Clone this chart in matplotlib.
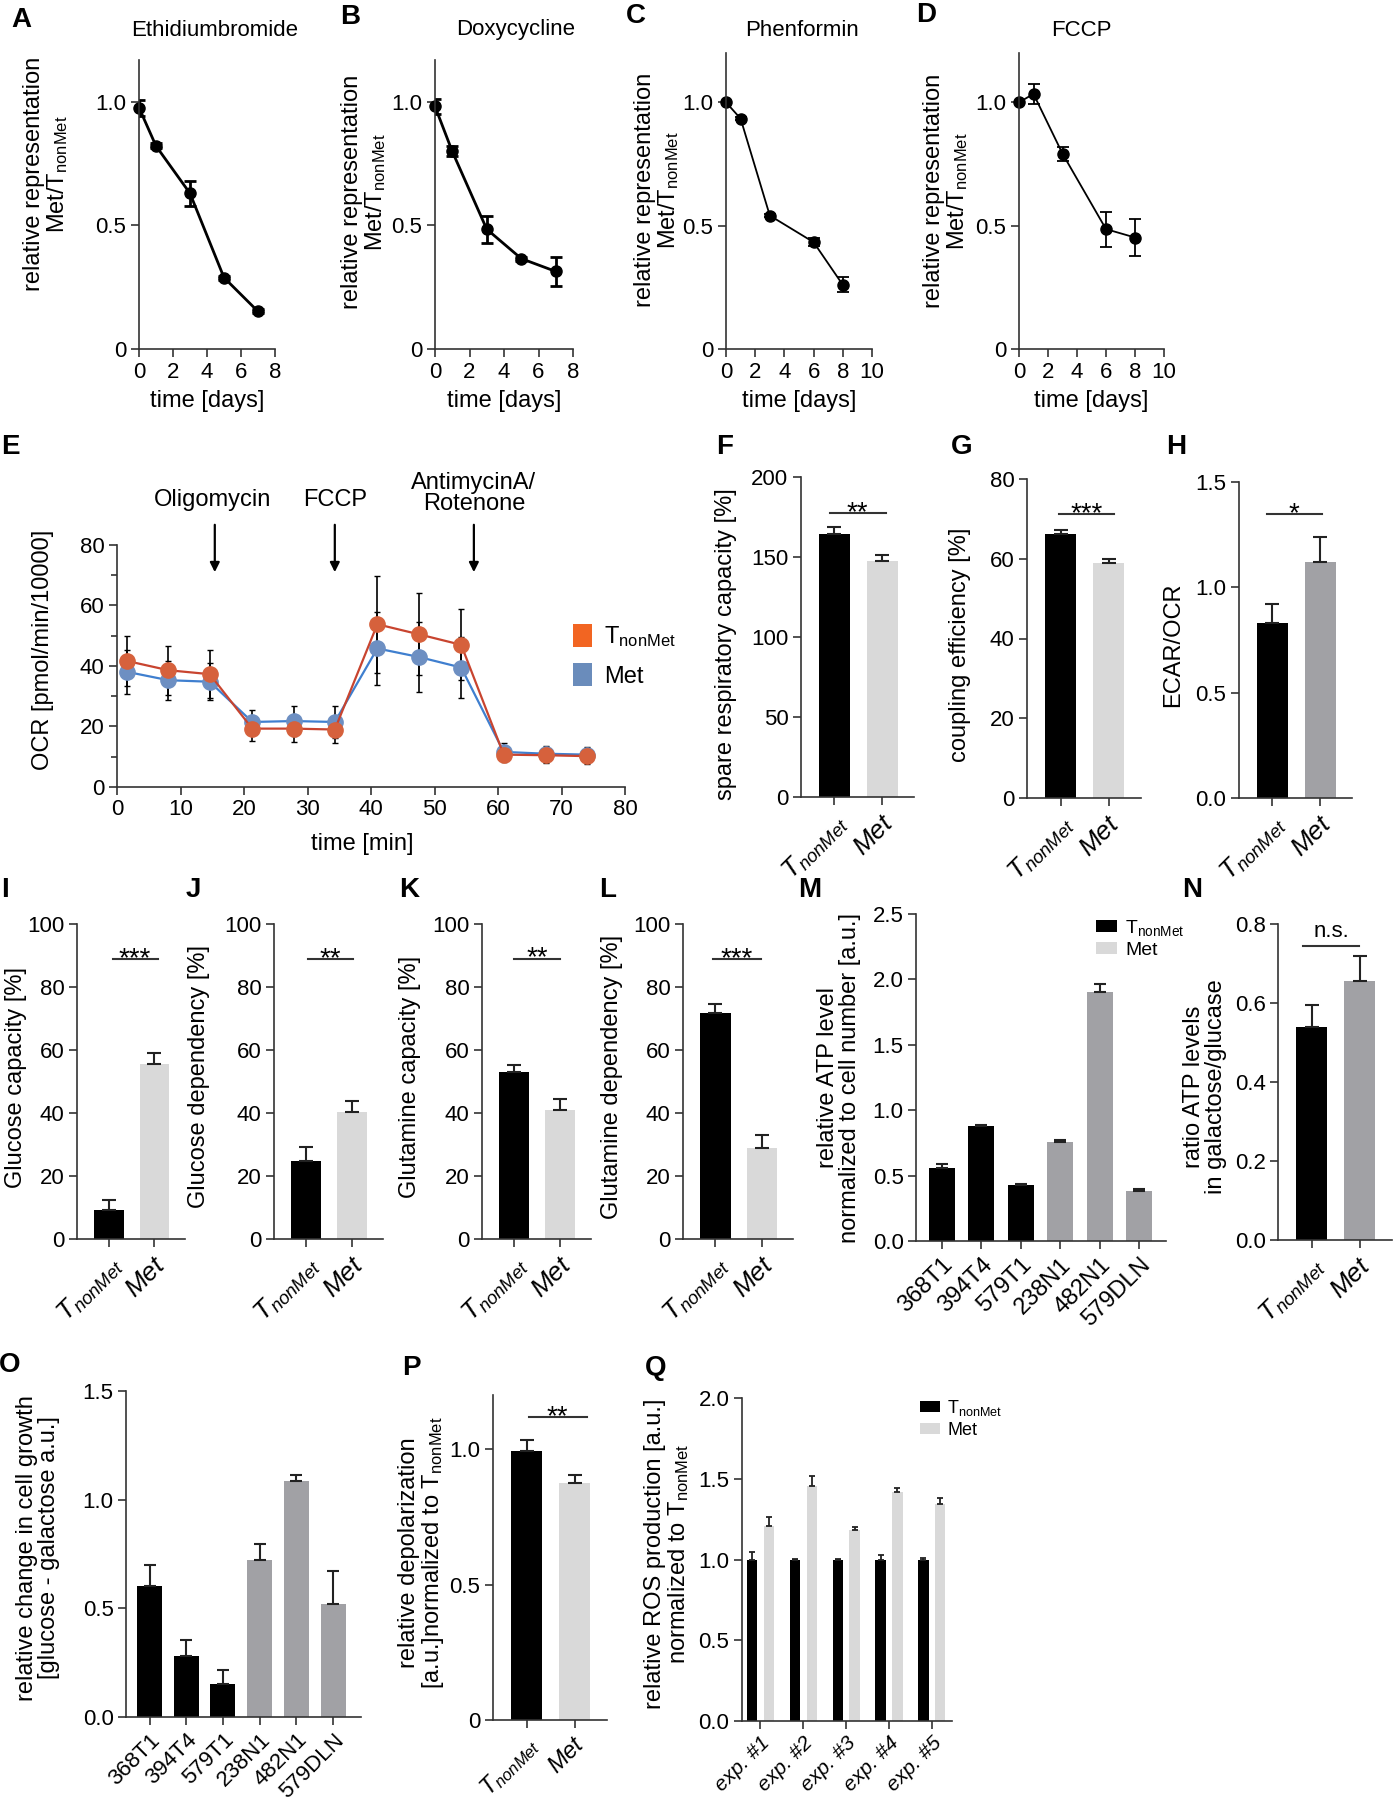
import matplotlib
matplotlib.use('Agg')
import matplotlib.pyplot as plt
from matplotlib.patches import Patch

plt.rcParams['font.family'] = ['Liberation Sans', 'DejaVu Sans']
plt.rcParams['mathtext.fontset'] = 'custom'
plt.rcParams['mathtext.rm'] = 'Liberation Sans'
plt.rcParams['mathtext.it'] = 'Liberation Sans:italic'
plt.rcParams['mathtext.bf'] = 'Liberation Sans:bold'

# ---------------- data ----------------
# A-D: relative representation over time
days_ab = [0, 1, 3, 5, 7]
days_cd = [0, 1, 3, 6, 8]
etbr = [0.977, 0.822, 0.630, 0.289, 0.152]
etbr_err = [0.032, 0.01, 0.05, 0.008, 0.008]
doxy = [0.982, 0.80, 0.485, 0.366, 0.314]
doxy_err = [0.03, 0.02, 0.054, 0.008, 0.057]
phen = [1.0, 0.934, 0.541, 0.433, 0.26]
phen_err = [0.005, 0.005, 0.005, 0.015, 0.03]
fccp = [1.0, 1.034, 0.792, 0.486, 0.452]
fccp_err = [0.005, 0.04, 0.028, 0.071, 0.076]

# E: OCR time course
ocr_time = [1.5, 8.1, 14.6, 21.3, 27.8, 34.3, 41.0, 47.5, 54.2, 60.9, 67.5, 74.0]
ocr_tnon = [41.7, 38.6, 37.3, 19.3, 19.3, 19.0, 53.8, 50.5, 47.0, 10.7, 10.5, 10.2]
ocr_tnon_err = [8.2, 8.1, 7.9, 4.0, 4.5, 4.5, 16.0, 13.5, 11.7, 2.5, 2.5, 2.5]
ocr_met = [38.1, 35.3, 34.8, 21.5, 21.8, 21.5, 45.8, 43.0, 39.5, 11.6, 11.0, 10.7]
ocr_met_err = [7.2, 6.5, 6.2, 4.1, 5.0, 5.2, 12.2, 11.5, 10.0, 3.0, 2.7, 2.5]

# two-group bar panels (TnonMet, Met)
spare_cap = [164.5, 147.5]; spare_cap_err = [4.0, 3.5]
coupling = [66.3, 58.9]; coupling_err = [1.0, 1.0]
ecar_ocr = [0.833, 1.121]; ecar_ocr_err = [0.086, 0.119]
glc_cap = [9.1, 55.6]; glc_cap_err = [3.2, 3.4]
glc_dep = [24.9, 40.2]; glc_dep_err = [4.3, 3.7]
gln_cap = [53.0, 41.0]; gln_cap_err = [2.3, 3.4]
gln_dep = [71.8, 28.9]; gln_dep_err = [2.8, 4.1]
atp_ratio = [0.538, 0.655]; atp_ratio_err = [0.058, 0.065]
depol = [0.994, 0.874]; depol_err = [0.04, 0.031]

# cell lines
cell_lines = ['368T1', '394T4', '579T1', '238N1', '482N1', '579DLN']
atp_level = [0.561, 0.880, 0.426, 0.760, 1.903, 0.383]
atp_level_err = [0.028, 0.01, 0.013, 0.01, 0.064, 0.017]
growth = [0.602, 0.279, 0.154, 0.722, 1.084, 0.522]
growth_err = [0.097, 0.074, 0.064, 0.073, 0.031, 0.152]

# ROS experiments
experiments = ['exp. #1', 'exp. #2', 'exp. #3', 'exp. #4', 'exp. #5']
ros_tnon = [1.0, 1.0, 1.0, 1.0, 1.0]
ros_tnon_err = [0.045, 0.005, 0.003, 0.027, 0.007]
ros_met = [1.209, 1.457, 1.184, 1.421, 1.345]
ros_met_err = [0.057, 0.062, 0.016, 0.019, 0.033]

group_labels = [r'$\mathit{T}_{\mathit{nonMet}}$', r'$\mathit{Met}$']
TNON = r'T$_{\mathrm{nonMet}}$'

LIGHT = '#d9d9d9'
MID = '#a1a1a5'
AXC = '#333333'

W, H = 1394, 1800
fig = plt.figure(figsize=(W / 100, H / 100), dpi=100)


def new_ax(l, t, r, b, labelsize=16):
    ax = fig.add_axes([l / W, 1 - b / H, (r - l) / W, (b - t) / H])
    ax.spines['top'].set_visible(False)
    ax.spines['right'].set_visible(False)
    for s in ['left', 'bottom']:
        ax.spines[s].set_linewidth(1.2)
        ax.spines[s].set_color(AXC)
    ax.tick_params(direction='out', length=6, width=1.2, color=AXC,
                   labelsize=labelsize, pad=3)
    return ax


def ylab(ax, text, xr, yc, size=17):
    ax.set_ylabel(text, fontsize=size, linespacing=1.0)
    ax.yaxis.set_label_coords(xr / W, 1 - yc / H, transform=fig.transFigure)


def letter(x, y, s):
    fig.text(x / W, 1 - y / H, s, fontsize=20, fontweight='bold',
             ha='center', va='center')


def sig(ax, x0, x1, y, s, off=-5, size=20):
    ax.plot([x0, x1], [y, y], color=AXC, lw=1.5, clip_on=False)
    ax.annotate(s, xy=((x0 + x1) / 2, y), xytext=(0, off),
                textcoords='offset points', ha='center', va='baseline',
                fontsize=size, annotation_clip=False)


# ---------------- A-D line panels ----------------
def line_panel(l, t, r, b, x, y, err, xmax, ytop, lw, title, tx, ylx, yly):
    ax = new_ax(l, t, r, b)
    ax.errorbar(x, y, yerr=err, fmt='none', ecolor='black', elinewidth=lw,
                capsize=4, capthick=lw)
    ax.plot(x, y, color='black', lw=lw, marker='o', ms=8, clip_on=False)
    ax.set_xlim(0, xmax)
    ax.set_ylim(0, ytop)
    ax.set_xticks(range(0, xmax + 1, 2))
    ax.set_yticks([0, 0.5, 1.0])
    ax.set_yticklabels(['0', '0.5', '1.0'])
    ax.set_xlabel('time [days]', fontsize=17)
    ax.xaxis.set_label_coords((l + r) / 2 / W, 1 - 390 / H, transform=fig.transFigure)
    ylab(ax, 'relative representation\nMet/' + TNON, ylx, yly)
    fig.text(tx / W, 1 - 30 / H, title, fontsize=16, ha='center', va='center')
    return ax


line_panel(139, 60, 275, 349, days_ab, etbr, etbr_err, 8, 1.17, 2.0,
           'Ethidiumbromide', 215, 70, 174)
line_panel(435, 60, 573, 349, days_ab, doxy, doxy_err, 8, 1.17, 2.0,
           'Doxycycline', 516, 388, 192)
line_panel(726, 53, 872, 349, days_cd, phen, phen_err, 10, 1.2, 1.3,
           'Phenformin', 802, 681, 190)
line_panel(1019, 53, 1164, 349, days_cd, fccp, fccp_err, 10, 1.2, 1.3,
           'FCCP', 1081, 970, 191)
letter(21, 20, 'A')
letter(350, 17, 'B')
letter(636, 16, 'C')
letter(926, 15, 'D')

# ---------------- E seahorse trace ----------------
axE = new_ax(117, 545, 625, 787)
axE.errorbar(ocr_time, ocr_met, yerr=ocr_met_err, fmt='none', ecolor='black',
             elinewidth=1.2, capsize=2.5, zorder=1)
axE.errorbar(ocr_time, ocr_tnon, yerr=ocr_tnon_err, fmt='none', ecolor='black',
             elinewidth=1.2, capsize=2.5, zorder=1)
axE.plot(ocr_time, ocr_met, color='#3f7fcf', lw=1.6, marker='o', ms=11,
         mfc='#6d8fc2', mec='#6d8fc2', zorder=3, clip_on=False)
axE.plot(ocr_time, ocr_tnon, color='#c8442f', lw=1.6, marker='o', ms=11,
         mfc='#d6613c', mec='#d6613c', zorder=4, clip_on=False)
axE.set_xlim(0, 80)
axE.set_ylim(0, 80)
axE.set_xticks(range(0, 81, 10))
axE.set_yticks(range(0, 81, 20))
axE.set_yticks(range(10, 80, 20), minor=True)
axE.tick_params(which='minor', direction='out', length=4, width=1.2, color=AXC)
axE.set_xlabel('time [min]', fontsize=17)
axE.xaxis.set_label_coords(362 / W, 1 - 833 / H, transform=fig.transFigure)
ylab(axE, 'OCR [pmol/min/10000]', 54, 650)
for xa, txt, ty in [(15.4, 'Oligomycin', 94.9), (34.3, 'FCCP', 94.9),
                    (56.2, 'AntimycinA/\nRotenone', 96.9)]:
    axE.annotate('', xy=(xa, 70.1), xytext=(xa, 87.6),
                 arrowprops=dict(arrowstyle='-|>', color='black', lw=1.6,
                                 mutation_scale=14), annotation_clip=False)
    axE.text(xa if txt != 'Oligomycin' else 15.0, ty, txt, ha='center', va='center',
             fontsize=17, linespacing=0.95, clip_on=False)
axE.legend(handles=[Patch(facecolor='#f26522'), Patch(facecolor='#6a8cbb')],
           labels=[TNON, 'Met'], loc='upper left', frameon=False, fontsize=17,
           handlelength=0.8, handleheight=1.1, handletextpad=0.5,
           labelspacing=0.6, borderpad=0, borderaxespad=0,
           bbox_to_anchor=(573 / W, 1 - 624 / H), bbox_transform=fig.transFigure)
letter(10, 447, 'E')


# ---------------- two-bar panels ----------------
def bar2(l, t, r, b, vals, errs, met_color, ytop, yticks, yticklabels,
         ylabel, ylx, yly, sigspec=None, labelsize=16, xlsize=19):
    ax = new_ax(l, t, r, b, labelsize=labelsize)
    x = [0, 1]
    ax.bar(x, vals, width=0.65, color=['black', met_color])
    ax.errorbar(x, vals, yerr=[[0, 0], errs], fmt='none', ecolor='#222222',
                elinewidth=1.5, capsize=5, capthick=1.5)
    ax.set_xlim(-0.7, 1.67)
    ax.set_ylim(0, ytop)
    ax.set_yticks(yticks)
    ax.set_yticklabels(yticklabels)
    ax.set_xticks(x)
    ax.set_xticklabels(group_labels, rotation=45, ha='right',
                       rotation_mode='anchor', fontsize=xlsize)
    ylab(ax, ylabel, ylx, yly)
    if sigspec:
        sig(ax, *sigspec)
    return ax


bar2(801, 477, 914, 797, spare_cap, spare_cap_err, LIGHT, 200,
     [0, 50, 100, 150, 200], ['0', '50', '100', '150', '200'],
     'spare respiratory capacity [%]', 737, 644, (-0.1, 1.08, 177.5, '**'))
bar2(1027, 479, 1141, 798, coupling, coupling_err, LIGHT, 80,
     [0, 20, 40, 60, 80], ['0', '20', '40', '60', '80'],
     'coupling efficiency [%]', 971, 645, (-0.04, 1.1, 71.1, '***'))
bar2(1239, 482, 1352, 798, ecar_ocr, ecar_ocr_err, MID, 1.5,
     [0, 0.5, 1.0, 1.5], ['0.0', '0.5', '1.0', '1.5'],
     'ECAR/OCR', 1184, 645, (-0.12, 1.04, 1.346, '*'))
letter(725, 447, 'F')
letter(962, 447, 'G')
letter(1176, 447, 'H')

pct_ticks = [0, 20, 40, 60, 80, 100]
pct_labels = ['0', '20', '40', '60', '80', '100']
bar2(77, 924, 185, 1239, glc_cap, glc_cap_err, LIGHT, 100, pct_ticks, pct_labels,
     'Glucose capacity [%]', 27, 1077, (0.08, 1.07, 88.8, '***'))
bar2(274, 924, 383, 1239, glc_dep, glc_dep_err, LIGHT, 100, pct_ticks, pct_labels,
     'Glucose dependency [%]', 210, 1077, (0.03, 1.02, 88.9, '**'))
bar2(482, 924, 591, 1239, gln_cap, gln_cap_err, LIGHT, 100, pct_ticks, pct_labels,
     'Glutamine capacity [%]', 421, 1077, (0.0, 1.0, 89.0, '**'))
bar2(683, 924, 793, 1239, gln_dep, gln_dep_err, LIGHT, 100, pct_ticks, pct_labels,
     'Glutamine dependency [%]', 623, 1077, (-0.06, 0.97, 88.9, '***'))
letter(5, 890, 'I')
letter(193, 890, 'J')
letter(409, 890, 'K')
letter(608, 890, 'L')

# M: ATP level per cell line
axM = new_ax(916, 914, 1166, 1241)
m_colors = ['black'] * 3 + [MID] * 3
axM.bar(range(6), atp_level, width=0.66, color=m_colors)
axM.errorbar(range(6), atp_level, yerr=[[0] * 6, atp_level_err], fmt='none',
             ecolor='#222222', elinewidth=1.5, capsize=4, capthick=1.5)
axM.set_xlim(-0.65, 5.68)
axM.set_ylim(0, 2.5)
axM.set_yticks([0, 0.5, 1.0, 1.5, 2.0, 2.5])
axM.set_yticklabels(['0.0', '0.5', '1.0', '1.5', '2.0', '2.5'])
axM.set_xticks(range(6))
axM.set_xticklabels(cell_lines, rotation=45, ha='right', rotation_mode='anchor',
                    fontsize=17)
ylab(axM, 'relative ATP level\nnormalized to cell number [a.u.]', 861, 1078)
axM.legend(handles=[Patch(facecolor='black'), Patch(facecolor=LIGHT)],
           labels=[TNON, 'Met'], loc='upper left', frameon=False, fontsize=14,
           handlelength=1.1, handleheight=0.55, handletextpad=0.4,
           labelspacing=0.2, borderpad=0, borderaxespad=0,
           bbox_to_anchor=(1096 / W, 1 - 918 / H), bbox_transform=fig.transFigure)
letter(810, 890, 'M')

bar2(1278, 924, 1392, 1240, atp_ratio, atp_ratio_err, MID, 0.8,
     [0, 0.2, 0.4, 0.6, 0.8], ['0.0', '0.2', '0.4', '0.6', '0.8'],
     'ratio ATP levels\nin galactose/glucase', 1227, 1087,
     (-0.17, 0.98, 0.745, 'n.s.', 6, 16))
letter(1192, 890, 'N')

# O: growth change per cell line
axO = new_ax(126, 1391, 361, 1717)
axO.bar(range(6), growth, width=0.68, color=m_colors)
axO.errorbar(range(6), growth, yerr=[[0] * 6, growth_err], fmt='none',
             ecolor='#222222', elinewidth=1.5, capsize=4.5, capthick=1.5)
axO.set_xlim(-0.64, 5.76)
axO.set_ylim(0, 1.5)
axO.set_yticks([0, 0.5, 1.0, 1.5])
axO.set_yticklabels(['0.0', '0.5', '1.0', '1.5'])
axO.set_xticks(range(6))
axO.set_xticklabels(cell_lines, rotation=45, ha='right', rotation_mode='anchor',
                    fontsize=16)
ylab(axO, 'relative change in cell growth\n[glucose - galactose a.u.]', 60, 1548)
letter(10, 1365, 'O')

# P: depolarization
axP = bar2(493, 1395, 607, 1720, depol, depol_err, LIGHT, 1.2,
           [0, 0.5, 1.0], ['0', '0.5', '1.0'],
           'relative depolarization\n[a.u.]normalized to ' + TNON, 446, 1553,
           (0.04, 1.25, 1.117, '**'), xlsize=17)
letter(411, 1368, 'P')

# Q: ROS production
axQ = new_ax(742, 1398, 952, 1721)
xq = list(range(5))
axQ.bar([v - 0.196 for v in xq], ros_tnon, width=0.24, color='black')
axQ.bar([v + 0.196 for v in xq], ros_met, width=0.24, color=LIGHT)
axQ.errorbar([v - 0.196 for v in xq], ros_tnon, yerr=[[0] * 5, ros_tnon_err],
             fmt='none', ecolor='#222222', elinewidth=1.3, capsize=2, capthick=1.3)
axQ.errorbar([v + 0.196 for v in xq], ros_met, yerr=[[0] * 5, ros_met_err],
             fmt='none', ecolor='#222222', elinewidth=1.3, capsize=2, capthick=1.3)
axQ.set_xlim(-0.43, 4.47)
axQ.set_ylim(0, 2.0)
axQ.set_yticks([0, 0.5, 1.0, 1.5, 2.0])
axQ.set_yticklabels(['0.0', '0.5', '1.0', '1.5', '2.0'])
axQ.set_xticks(xq)
axQ.set_xticklabels(experiments, rotation=45, ha='right', rotation_mode='anchor',
                    fontsize=15, style='italic')
ylab(axQ, 'relative ROS production [a.u.]\nnormalized to ' + TNON, 691, 1554)
axQ.legend(handles=[Patch(facecolor='black'), Patch(facecolor=LIGHT)],
           labels=[TNON, 'Met'], loc='upper left', frameon=False, fontsize=13,
           handlelength=1.1, handleheight=0.6, handletextpad=0.4,
           labelspacing=0.2, borderpad=0, borderaxespad=0,
           bbox_to_anchor=(920 / W, 1 - 1398 / H), bbox_transform=fig.transFigure)
letter(656, 1368, 'Q')

fig.savefig('out.png', dpi=100)
